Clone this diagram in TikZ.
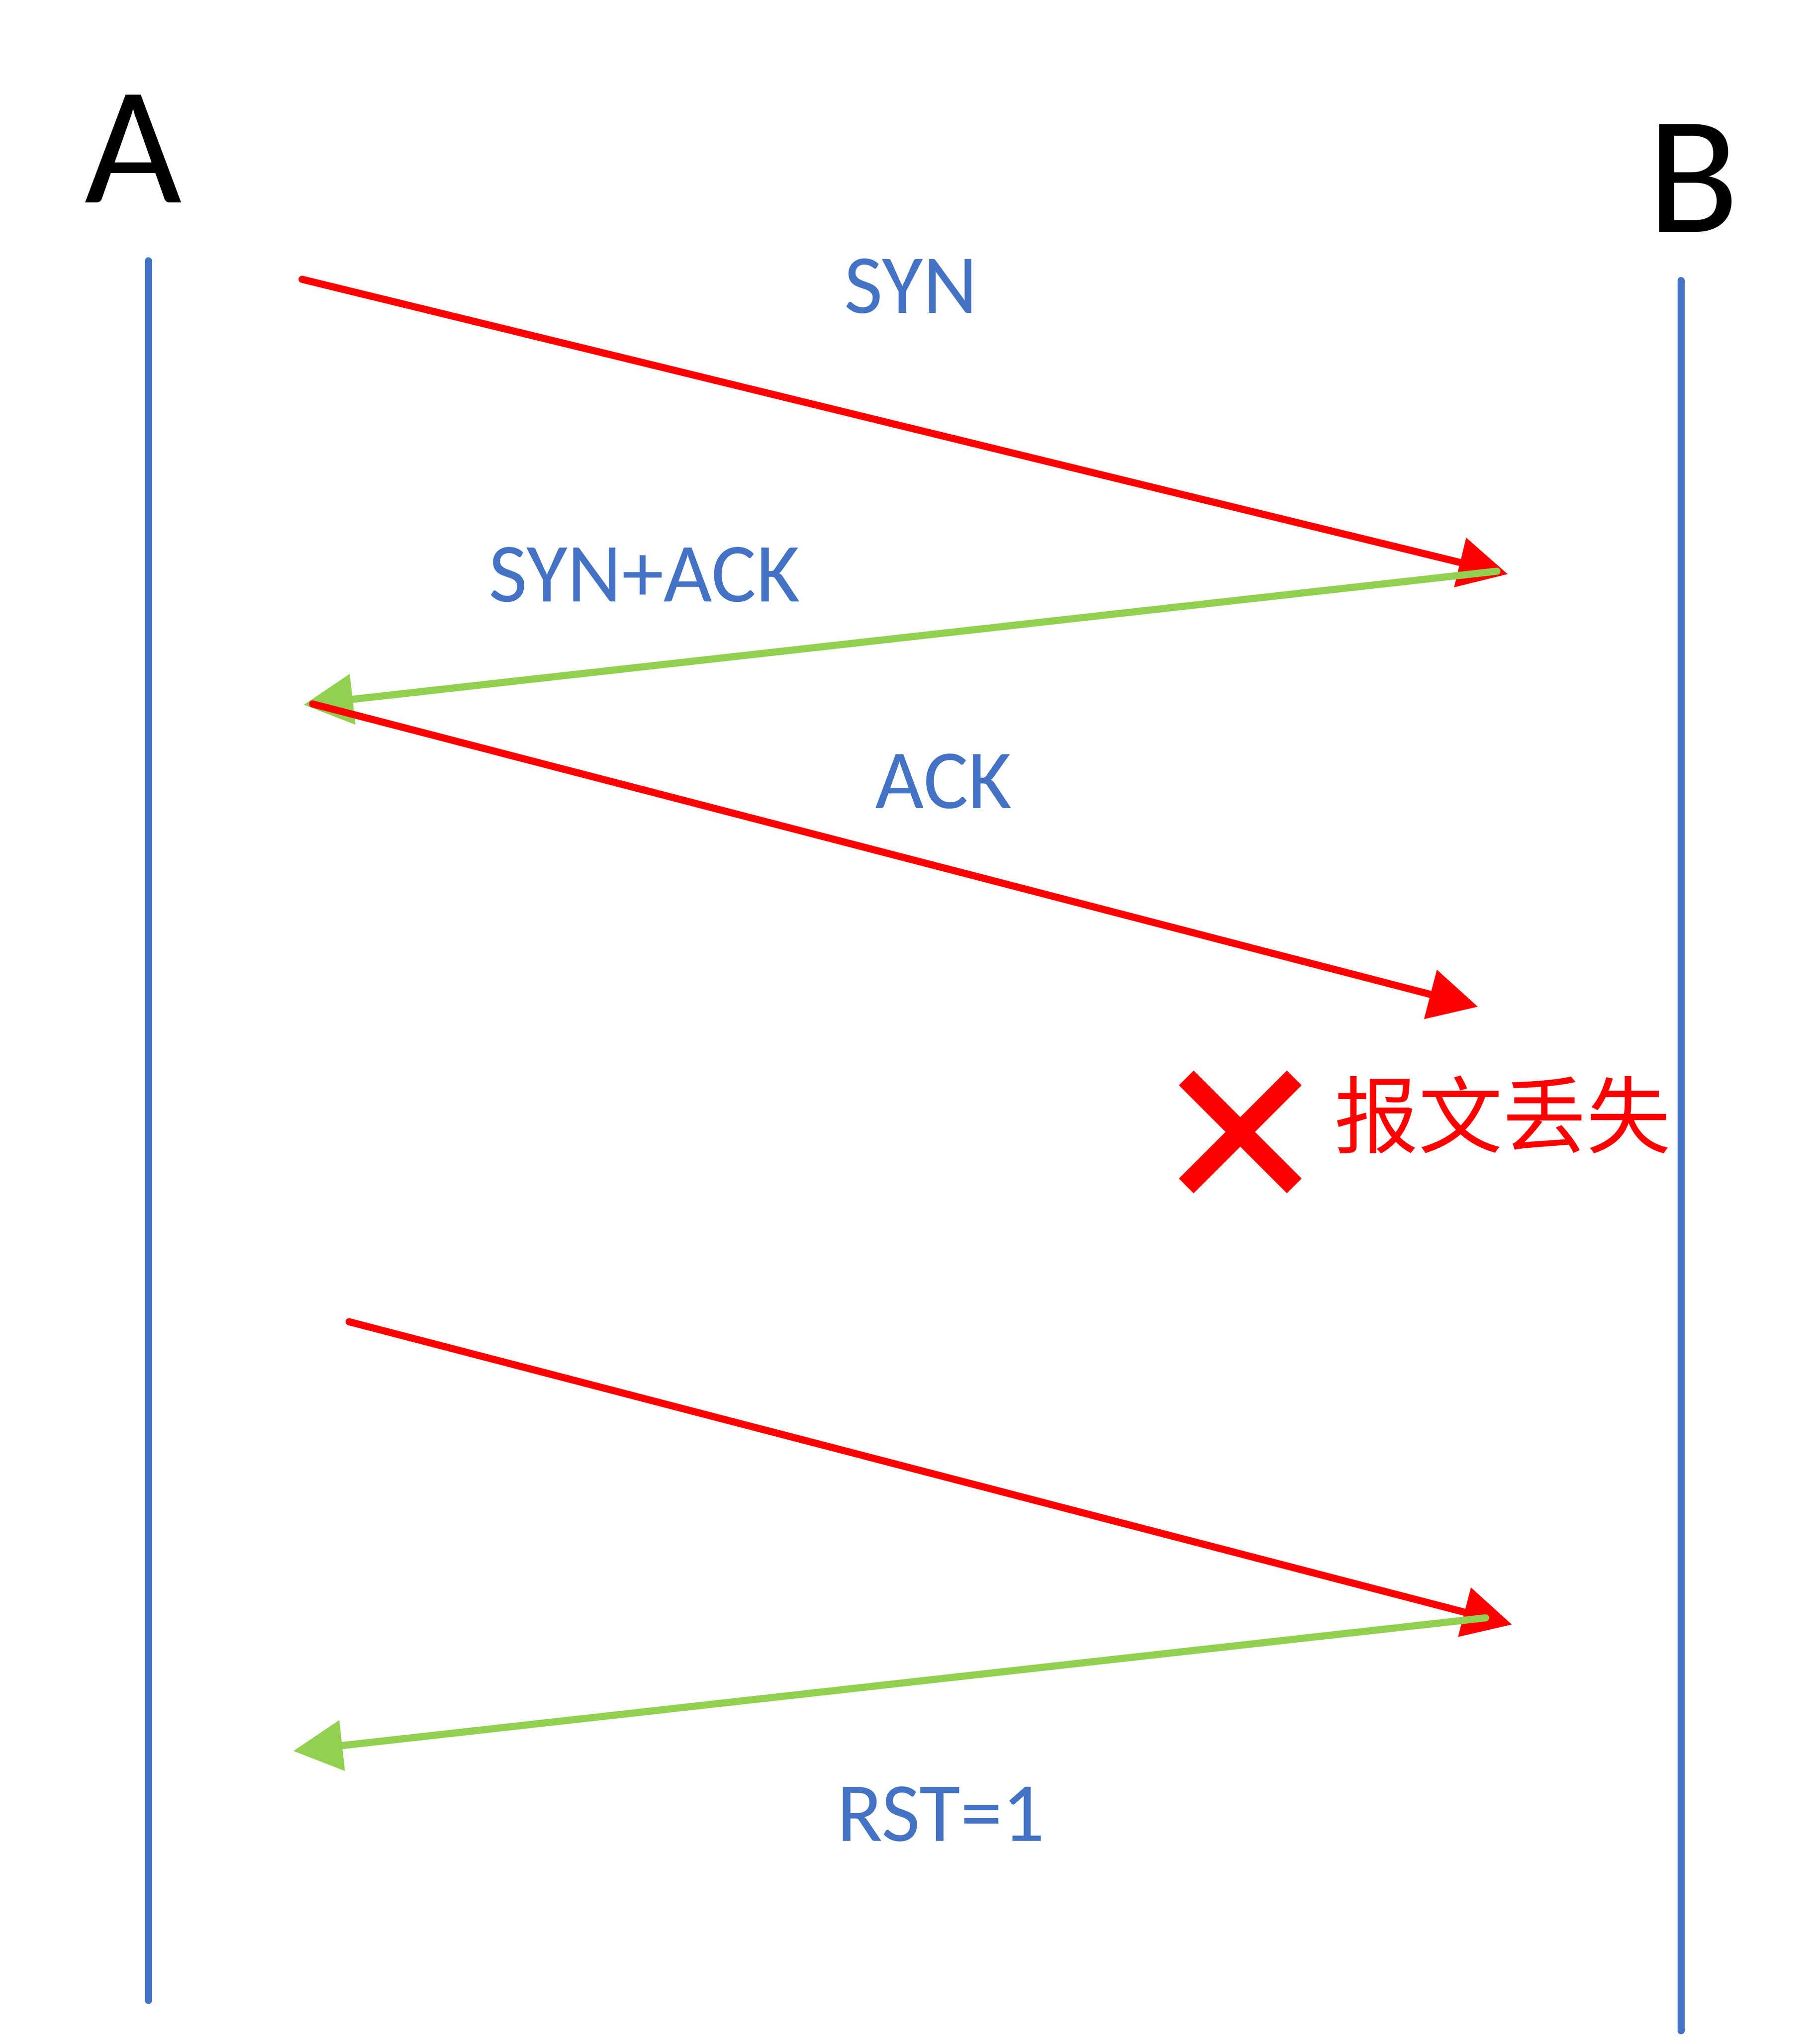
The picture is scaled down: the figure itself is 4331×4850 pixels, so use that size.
\documentclass[tikz,border=0pt]{standalone}
\usepackage{fontspec}
\setmainfont{Carlito}
\newfontfamily\cjk{Noto Sans CJK SC}
\usetikzlibrary{arrows.meta}
\definecolor{lifeblue}{HTML}{4472C4}
\definecolor{msgred}{HTML}{FF0000}
\definecolor{msggreen}{HTML}{92D050}
\tikzset{
  lifeline/.style={draw=lifeblue, line width=17pt, line cap=round},
  redmsg/.style={draw=msgred, line width=17pt, line cap=round, -{Triangle[length=117pt,width=117pt]}},
  greenmsg/.style={draw=msggreen, line width=17pt, line cap=round, -{Triangle[length=117pt,width=117pt]}},
  hostlabel/.style={inner sep=0pt, anchor=base, font=\fontsize{400}{480}\selectfont, text=black},
  msglabel/.style={inner sep=0pt, anchor=base, font=\fontsize{200}{240}\selectfont, text=lifeblue},
  losslabel/.style={inner sep=0pt, anchor=base west, font=\cjk\fontsize{200}{240}\selectfont, text=msgred}
}
\begin{document}
\begin{tikzpicture}[x=1pt,y=1pt]
\useasboundingbox (0,0) rectangle (4331,-4850);
\fill[white] (0,0) rectangle (4331,-4850);

% host labels
\node[hostlabel] (A) at (317,-482) {A};
\node[hostlabel] (B) at (4030,-552) {B};

% lifelines
\coordinate (Atop) at (353,-621);
\coordinate (Abot) at (353,-4763);
\coordinate (Btop) at (4001,-668);
\coordinate (Bbot) at (4001,-4835);
\draw[lifeline] (Atop) -- (Abot);
\draw[lifeline] (Btop) -- (Bbot);

% message end points
\coordinate (s1) at (719,-665);
\coordinate (t1) at (3589,-1367);
\coordinate (s2) at (3563,-1360);
\coordinate (t2) at (723,-1678);
\coordinate (s3) at (744,-1676);
\coordinate (t3) at (3518,-2397);
\coordinate (s4) at (831,-3147);
\coordinate (t4) at (3599,-3868);
\coordinate (s5) at (3536,-3852);
\coordinate (t5) at (698,-4169);

\draw[redmsg] (s1) -- (t1);
\draw[greenmsg] (s2) -- (t2);
\draw[redmsg] (s3) -- (t3);
\draw[redmsg] (s4) -- (t4);
\draw[greenmsg] (s5) -- (t5);

% message labels
\node[msglabel] (lsyn) at (2168,-745) {SYN};
\node[msglabel] (lsynack) at (1534,-1432) {SYN+ACK};
\node[msglabel] (lack) at (2246,-1924) {ACK};
\node[msglabel] (lrst) at (2240,-4383) {RST=1};

% lost marker
\coordinate (xc) at (2952,-2695);
\draw[msgred, line width=49.5pt, line cap=butt]
  ([shift={(-128.5,128.5)}]xc) -- ([shift={(128.5,-128.5)}]xc)
  ([shift={(128.5,128.5)}]xc) -- ([shift={(-128.5,-128.5)}]xc);
\node[losslabel] (loss) at (3176,-2730) {报文丢失};
\end{tikzpicture}
\end{document}
